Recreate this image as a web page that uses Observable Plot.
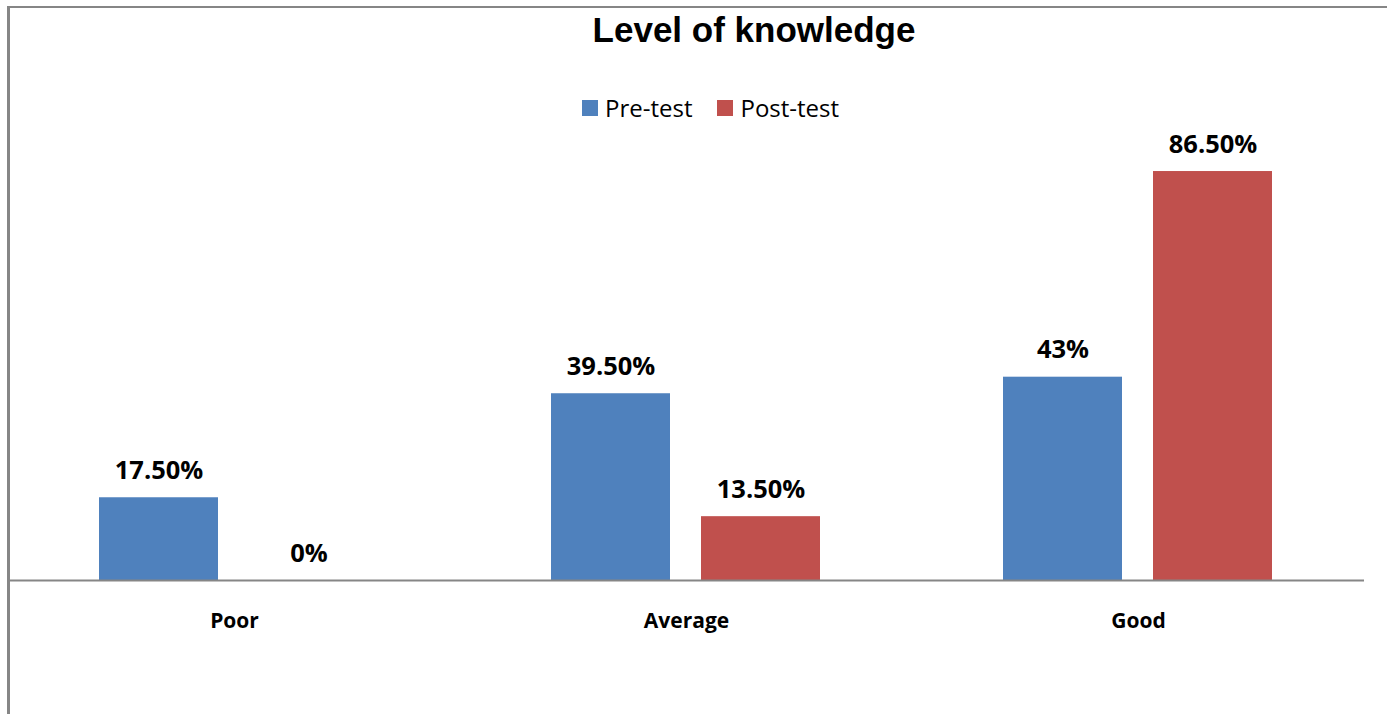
<!DOCTYPE html>
<html><head><meta charset="utf-8">
<script src="https://cdn.jsdelivr.net/npm/d3@7"></script>
<script src="https://cdn.jsdelivr.net/npm/@observablehq/plot@0.6"></script>
<style>
body{margin:0;background:#fff;}
#wrap{position:relative;width:1387px;height:714px;overflow:hidden;background:#fff;}
.bt{position:absolute;left:7px;top:6px;width:1380px;height:2px;background:#868686;}
.bl{position:absolute;left:7px;top:6px;width:3px;height:708px;background:#868686;}
#title{position:absolute;left:754px;top:12px;transform:translateX(-50%);font-family:"Liberation Sans",Arial,sans-serif;font-weight:bold;font-size:35px;line-height:35px;white-space:nowrap;color:#000;}
#legend{position:absolute;left:582px;top:96px;display:flex;align-items:center;font-family:"Open Sans",sans-serif;font-size:24px;line-height:24px;color:#000;}
.item{display:flex;align-items:center;margin-right:25px;}
.sw{width:16px;height:16px;margin-right:7px;}
#chart{position:absolute;left:0;top:0;}
</style></head><body>
<div id="wrap">
<div id="chart"></div>
<div class="bt"></div><div class="bl"></div>
<div id="title">Level of knowledge</div>
<div id="legend"></div>
</div>
<script>
const categories = ["Poor", "Average", "Good"];
const series = ["Pre-test", "Post-test"];
const preTest = [17.5, 39.5, 43];
const postTest = [0, 13.5, 86.5];
const colors = ["#4F81BD", "#C0504D"];

const fmt = v => Number.isInteger(v) ? v + "%" : v.toFixed(2) + "%";
const rows = [];
categories.forEach((c, i) => {
  rows.push({category: c, series: series[0], value: preTest[i]});
  rows.push({category: c, series: series[1], value: postTest[i]});
});

const legend = document.getElementById("legend");
series.forEach((s, i) => {
  const it = document.createElement("div"); it.className = "item";
  const sw = document.createElement("div"); sw.className = "sw"; sw.style.background = colors[i];
  const t = document.createElement("span"); t.textContent = s;
  it.appendChild(sw); it.appendChild(t); legend.appendChild(it);
});

const chart = Plot.plot({
  width: 1387,
  height: 714,
  marginLeft: 8,
  marginRight: 23,
  marginTop: 107.2,
  marginBottom: 134,
  style: {fontFamily: "'Open Sans', sans-serif", fontSize: "21px", fontWeight: "bold", color: "#000", background: "transparent"},
  fx: {domain: categories, paddingInner: 0, paddingOuter: 0, axis: "bottom", tickSize: 0, tickPadding: 33, label: null},
  x: {domain: series, paddingInner: 0.2053, paddingOuter: 0.6026, axis: null},
  y: {domain: [0, 100], axis: null},
  color: {domain: series, range: colors},
  marks: [
    Plot.barY(rows, {fx: "category", x: "series", y: "value", fill: "series"}),
    Plot.ruleY([0], {stroke: "#868686", strokeWidth: 2}),
    Plot.text(rows, {fx: "category", x: "series", y: "value", text: d => fmt(d.value), dy: -27, fontSize: 25.5, fontWeight: "bold", fill: "#000", lineAnchor: "middle"})
  ]
});
document.getElementById("chart").appendChild(chart);
</script>
</body></html>
